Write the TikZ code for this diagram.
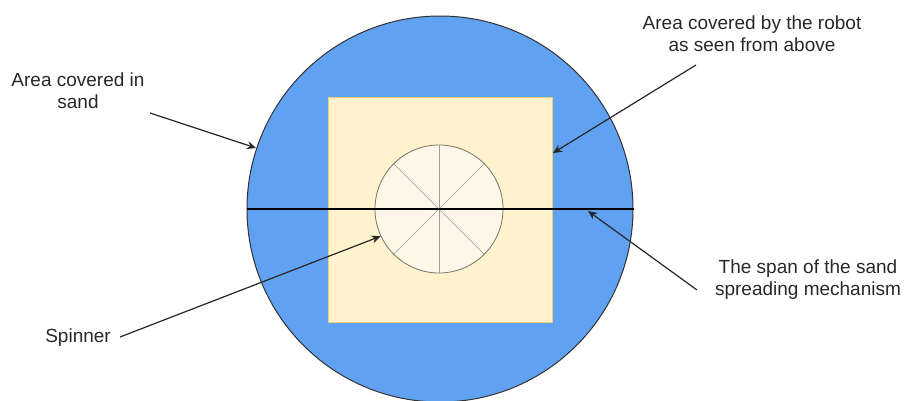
\documentclass[tikz,border=0pt]{standalone}
\usepackage{fontspec}
\setmainfont{Liberation Sans}
\usetikzlibrary{arrows.meta}
\definecolor{sandblue}{RGB}{96,161,242}
\definecolor{robotfill}{RGB}{255,242,204}
\definecolor{robotdraw}{RGB}{238,208,120}
\definecolor{spinfill}{RGB}{253,247,234}
\definecolor{spindraw}{RGB}{120,115,105}
\definecolor{txt}{RGB}{40,40,40}
\tikzset{
  lbl/.style={font=\fontsize{19}{22}\selectfont, text=txt, align=center, inner sep=0pt},
  pointer/.style={draw=black!85, line width=1.2pt, -{Stealth[length=9pt,width=8pt]}},
  spoke/.style={draw=spindraw!70, line width=0.6pt}
}
\begin{document}
\begin{tikzpicture}[x=1pt,y=-1pt]
\useasboundingbox (0,0) rectangle (906,401);
% sand area
\node[circle, draw=black!80, line width=1pt, fill=sandblue, minimum size=386pt, inner sep=0pt] (sand) at (440,209) {};
% robot footprint
\node[rectangle, draw=robotdraw, line width=1pt, fill=robotfill, minimum width=224pt, minimum height=224pt, inner sep=0pt] (robot) at (440,210) {};
% spinner
\node[circle, draw=spindraw, line width=0.8pt, fill=spinfill, minimum size=128pt, inner sep=0pt] (spinner) at (439,209) {};
\foreach \a in {0,45,90,135} {
  \draw[spoke] (spinner.\a) -- (spinner.{\a+180});
}
% span line
\draw[draw=black, line width=1.4pt] (sand.west) -- (sand.east);
% labels
\node[lbl] (lsand) at (78,91) {Area covered in\\sand};
\node[lbl] (lrobot) at (752,34) {Area covered by the robot\\as seen from above};
\node[lbl] (lspan) at (808,280) {The span of the sand\\spreading mechanism};
\node[lbl, anchor=east] (lspin) at (111,338) {Spinner};
% pointer ends
\coordinate (psand0) at (150,113);
\coordinate (psand1) at (256,148);
\coordinate (probot0) at (696,65);
\coordinate (probot1) at (553,153);
\coordinate (pspan0) at (697,290);
\coordinate (pspan1) at (588,211);
\coordinate (pspin0) at (120,337);
\draw[pointer] (psand0) -- (psand1);
\draw[pointer] (probot0) -- (probot1);
\draw[pointer] (pspan0) -- (pspan1);
\draw[pointer] (pspin0) -- (spinner.205);
\end{tikzpicture}
\end{document}
